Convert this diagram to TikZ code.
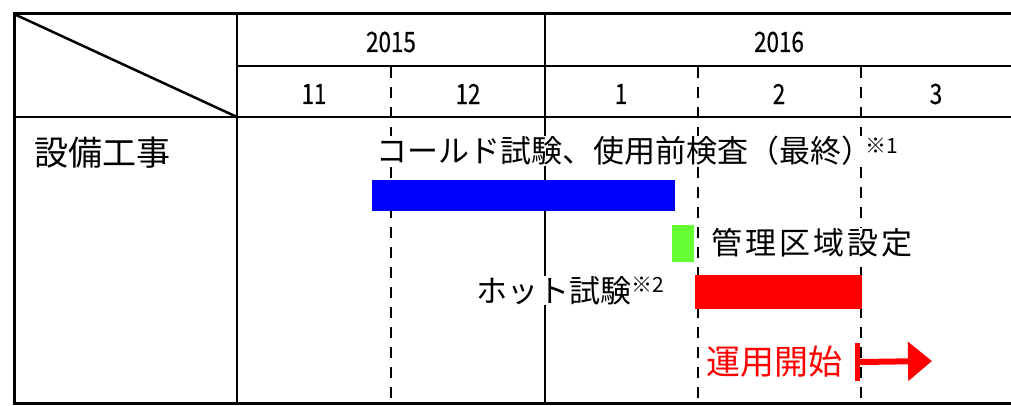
\documentclass[tikz,border=0pt]{standalone}
\usepackage{fontspec}
\setmainfont{Noto Sans CJK JP}
\newfontfamily\jpsp[LetterSpace=10]{Noto Sans CJK JP}
\newfontfamily\numfont[FakeBold=0.5]{Noto Sans CJK JP}
\usetikzlibrary{arrows.meta}
\definecolor{barblue}{RGB}{0,0,255}
\definecolor{bargreen}{RGB}{102,255,51}
\definecolor{barred}{RGB}{255,0,0}
\newcommand{\numtxt}[1]{\scalebox{0.8}[1]{\numfont #1}}
\begin{document}
\begin{tikzpicture}[x=1pt,y=-1pt,
  outer/.style={line width=3pt},
  inner/.style={line width=2.5pt},
  dashv/.style={line width=2.5pt, dash pattern=on 11pt off 9pt},
  hdr/.style={font=\fontsize{28}{28}\selectfont, inner sep=0pt},
  bar/.style={draw=none, inner sep=0pt, anchor=north west},
  lbl/.style={anchor=west, inner sep=1pt, fill=white},
  big/.style={font=\fontsize{31}{31}\selectfont},
  bigger/.style={font=\fontsize{34}{34}\selectfont}
]
\useasboundingbox (0,0) rectangle (1011,406);
% coordinates
\coordinate (tl) at (14,14);
\coordinate (bl) at (14,403);
\coordinate (tr) at (1014,14);
\coordinate (br) at (1014,403);
\coordinate (c1t) at (237,14);
\coordinate (c1b) at (237,403);
\coordinate (h1l) at (237,66);
\coordinate (h1r) at (1014,66);
\coordinate (h2l) at (14,117);
\coordinate (h2r) at (1014,117);
\coordinate (y1t) at (545,14);
\coordinate (y1b) at (545,403);
\coordinate (d1t) at (391,67);
\coordinate (d1b) at (391,403);
\coordinate (d2t) at (698,67);
\coordinate (d2b) at (698,403);
\coordinate (d3t) at (861,67);
\coordinate (d3b) at (861,403);
\coordinate (diagE) at (237,117);
% grid
\draw[dashv] (d1t) -- (d1b);
\draw[dashv] (d2t) -- (d2b);
\draw[dashv] (d3t) -- (d3b);
\draw[inner] (h1l) -- (h1r);
\draw[inner] (h2l) -- (h2r);
\draw[inner] (y1t) -- (y1b);
\draw[inner] (c1t) -- (c1b);
\draw[inner] (tl) -- (diagE);
\draw[outer] (tr) -- (tl) -- (bl) -- (br);
% header
\node[hdr] (y2015) at (391,42) {\numtxt{2015}};
\node[hdr] (y2016) at (779,42) {\numtxt{2016}};
\node[hdr] (m11) at (314,94) {\numtxt{11}};
\node[hdr] (m12) at (468,94) {\numtxt{12}};
\node[hdr] (m1) at (621,94) {\numtxt{1}};
\node[hdr] (m2) at (779,94) {\numtxt{2}};
\node[hdr] (m3) at (936,94) {\numtxt{3}};
% bars
\node[bar, fill=barblue, minimum width=303pt, minimum height=31pt] (cold) at (372,180) {};
\node[bar, fill=bargreen, minimum width=22pt, minimum height=37pt] (area) at (672,225) {};
\node[bar, fill=barred, minimum width=167pt, minimum height=34pt] (hot) at (695,275) {};
% labels
\node[lbl, bigger, inner sep=0pt, fill=none] (work) at (34,153) {設備工事};
\node[lbl, big, inner sep=0pt, anchor=base west] (coldtxt) at (376,163) {コールド試験、使用前検査（最終）\kern-7pt\raisebox{9pt}{\fontsize{21}{21}\selectfont ※1}};
\node[lbl, big] (areatxt) at (710,243) {\jpsp 管理区域設定};
\node[lbl, big, inner sep=0pt, anchor=base west] (hottxt) at (476,302) {ホット試験\raisebox{10pt}{\fontsize{21}{21}\selectfont ※2}};
\node[lbl, bigger, inner sep=0pt, text=barred, fill=none] (optxt) at (706,362) {運用開始};
% arrow
\node[draw=none, fill=barred, inner sep=0pt, minimum width=5pt, minimum height=38pt] (tick) at (857.5,362) {};
\coordinate (arrEnd) at (932,361);
\draw[line width=6pt, barred, -{Triangle[length=24pt,width=38pt]}] (tick.east) -- (arrEnd);
\end{tikzpicture}
\end{document}
